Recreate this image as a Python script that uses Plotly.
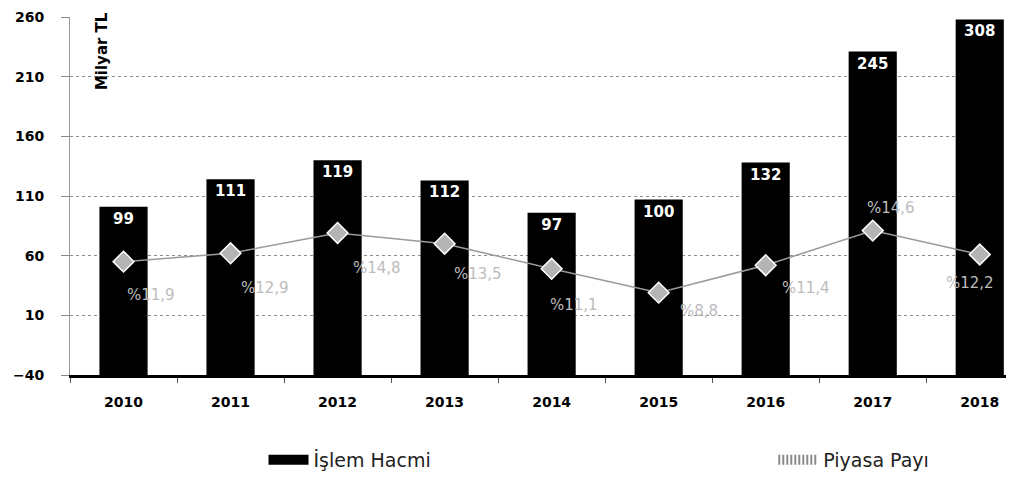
import plotly.graph_objects as go

# ---- data ----
years = ["2010", "2011", "2012", "2013", "2014", "2015", "2016", "2017", "2018"]
islem_hacmi_height = [101, 124, 140, 123, 96, 107, 138, 231, 258]
islem_hacmi_labels = ["99", "111", "119", "112", "97", "100", "132", "245", "308"]
piyasa_payi_y = [55, 62, 79, 70, 49, 29, 52, 81, 61]
piyasa_payi_labels = ["%11,9", "%12,9", "%14,8", "%13,5", "%11,1", "%8,8", "%11,4", "%14,6", "%12,2"]
y_ticks = [-40, 10, 60, 110, 160, 210, 260]

# ---- styling ----
AXIS_MIN = -40
AXIS_MAX = 260
FONT = "DejaVu Sans"
label_shift_x = [27, 34, 39, 33, 22, 40, 40, 18, -10]
label_shift_y = [-33, -35, -35, -30, -36, -18, -23, 23, -29]

fig = go.Figure()

fig.add_trace(go.Bar(
    x=years,
    y=[h - AXIS_MIN for h in islem_hacmi_height],
    base=AXIS_MIN,
    name="İşlem Hacmi",
    showlegend=False,
    marker=dict(color="#000000", line=dict(width=0)),
    width=0.45,
    text=islem_hacmi_labels,
    textposition="inside",
    insidetextanchor="end",
    textangle=0,
    constraintext="none",
    textfont=dict(family=FONT, size=15, color="#ffffff", weight="bold"),
    cliponaxis=True,
))

fig.add_trace(go.Scatter(
    x=years,
    y=piyasa_payi_y,
    mode="lines+markers",
    name="Piyasa Payı",
    showlegend=False,
    line=dict(color="#9a9a9a", width=1.5),
    marker=dict(symbol="diamond", size=16, color="#b4b4b4",
                line=dict(color="#ffffff", width=1.5)),
))

# legend proxies (wide black swatch, patterned grey swatch)
fig.add_trace(go.Scatter(
    x=[None], y=[None], mode="lines",
    name="İşlem Hacmi",
    line=dict(color="#000000", width=12),
    legend="legend",
))
fig.add_trace(go.Scatter(
    x=[None], y=[None], mode="lines",
    name="Piyasa Payı",
    line=dict(color="#8a8a8a", width=10, dash="2px,2px"),
    legend="legend2",
))

for i, (val, lab, dx, dy) in enumerate(zip(piyasa_payi_y, piyasa_payi_labels,
                                           label_shift_x, label_shift_y)):
    fig.add_annotation(
        x=i, y=val, xref="x", yref="y", text=lab, showarrow=False,
        xshift=dx, yshift=dy,
        font=dict(family=FONT, size=15, color="#bcbcbc"),
    )

fig.add_annotation(
    xref="paper", yref="paper", x=0.034, y=0.905,
    xanchor="center", yanchor="middle",
    text="<b>Milyar TL</b>", textangle=-90, showarrow=False,
    font=dict(family=FONT, size=15, color="#000000"),
)

legend_common = dict(
    orientation="h",
    yanchor="middle",
    font=dict(family=FONT, size=19, color="#222222"),
    itemwidth=40,
    bgcolor="rgba(0,0,0,0)",
)

fig.update_layout(
    width=1006, height=479,
    margin=dict(l=62, r=0, t=9, b=112),
    paper_bgcolor="#ffffff",
    plot_bgcolor="#ffffff",
    barmode="overlay",
    font=dict(family=FONT, color="#000000"),
    legend=dict(x=0.205, xanchor="left", y=-0.237, **legend_common),
    legend2=dict(x=0.745, xanchor="left", y=-0.237, **legend_common),
    xaxis=dict(
        type="category",
        range=[-0.5, 8.32],
        showline=True, linecolor="#000000", linewidth=3,
        ticks="outside", tickson="boundaries", ticklen=5, tickcolor="#555555",
        ticklabelstandoff=12,
        tickfont=dict(family=FONT, size=14, color="#000000", weight="bold"),
        showgrid=False, zeroline=False,
    ),
    yaxis=dict(
        range=[AXIS_MIN, AXIS_MAX],
        tickvals=y_ticks,
        ticks="outside", ticklen=8, tickcolor="#888888",
        ticklabelstandoff=14,
        showline=True, linecolor="#999999", linewidth=1,
        showgrid=True, gridcolor="#8c8c8c", griddash="dot", gridwidth=1,
        zeroline=False,
        tickfont=dict(family=FONT, size=14, color="#000000", weight="bold"),
    ),
)

fig.write_html("out.html")
